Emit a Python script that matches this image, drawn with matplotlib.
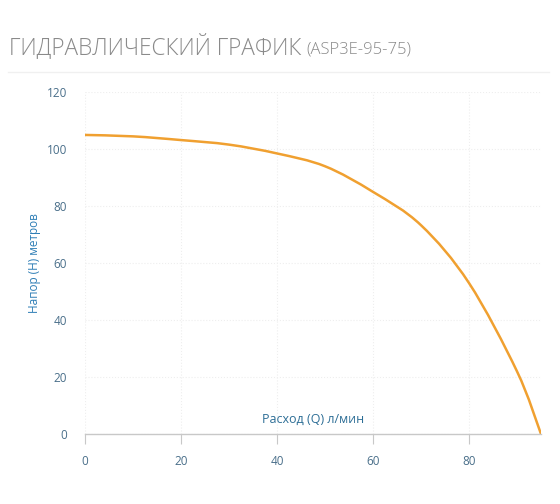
import matplotlib
matplotlib.use("Agg")
import matplotlib.pyplot as plt
from matplotlib.lines import Line2D
from matplotlib.path import Path
from matplotlib.patches import PathPatch

flow = [0, 10, 20, 30, 40, 50, 60, 70, 80, 90, 95]
head = [105, 104.5, 103.2, 101.6, 98.5, 94, 85, 73.3, 53, 22, 0]
xticks = [0, 20, 40, 60, 80]
yticks = [0, 20, 40, 60, 80, 100, 120]

title_main = "ГИДРАВЛИЧЕСКИЙ ГРАФИК"
title_model = "(ASP3E-95-75)"
ylabel = "Напор (H) метров"
xlabel = "Расход (Q) л/мин"

plt.rcParams['font.family'] = ['Open Sans', 'DejaVu Sans']

fig = plt.figure(figsize=(5.6, 5.04), dpi=100)
ax = fig.add_axes([0.152, 0.139, 0.814, 0.678])


def spline_path(xs, ys, tension=1/6):
    verts = [(xs[0], ys[0])]
    codes = [Path.MOVETO]
    n = len(xs)
    for i in range(n - 1):
        x0, y0 = (xs[i - 1], ys[i - 1]) if i > 0 else (xs[i], ys[i])
        x1, y1 = xs[i], ys[i]
        x2, y2 = xs[i + 1], ys[i + 1]
        x3, y3 = (xs[i + 2], ys[i + 2]) if i + 2 < n else (xs[i + 1], ys[i + 1])
        c1 = (x1 + (x2 - x0) * tension, y1 + (y2 - y0) * tension)
        c2 = (x2 - (x3 - x1) * tension, y2 - (y3 - y1) * tension)
        verts += [c1, c2, (x2, y2)]
        codes += [Path.CURVE4] * 3
    return Path(verts, codes)


ax.add_patch(PathPatch(spline_path(flow, head), facecolor='none',
                       edgecolor='#f0a030', lw=1.8, capstyle='round'))

ax.set_xlim(0, 95)
ax.set_ylim(0, 120)
ax.set_xticks(xticks)
ax.set_yticks(yticks)

tick_color = '#4a6f8a'
ax.tick_params(axis='x', colors='#c8c8c8', length=7, width=0.8, direction='out',
               labelcolor=tick_color, labelsize=8.5, pad=8)
ax.tick_params(axis='y', length=0, labelcolor=tick_color, labelsize=8.5, pad=13)

for s in ['top', 'right', 'left']:
    ax.spines[s].set_visible(False)
ax.spines['bottom'].set_color('#c8c8c8')
ax.spines['bottom'].set_linewidth(1.0)

ax.grid(True, color='#eeeeee', lw=0.8, ls=':')
ax.set_axisbelow(True)

ax.text(0.5, 0.025, xlabel, transform=ax.transAxes, ha='center', va='bottom',
        color='#2d6e96', fontsize=9)
fig.text(0.062, 0.478, ylabel, rotation=90, ha='center', va='center',
         color='#2d7db5', fontsize=8.5)

t1 = fig.text(0.016, 0.893, title_main, ha='left', va='baseline', color='#8a8a8a',
              fontsize=16.3, fontweight='light')
fig.canvas.draw()
bb = t1.get_window_extent()
x_end = bb.x1 / fig.bbox.width
fig.text(x_end + 0.009, 0.893, title_model, ha='left', va='baseline', color='#8a8a8a',
         fontsize=12, fontweight='light')

fig.add_artist(Line2D([0.014, 0.98], [0.857, 0.857], color='#f0f0f0', lw=1.0,
                      transform=fig.transFigure))

fig.savefig("out.png", dpi=100, facecolor='white')
